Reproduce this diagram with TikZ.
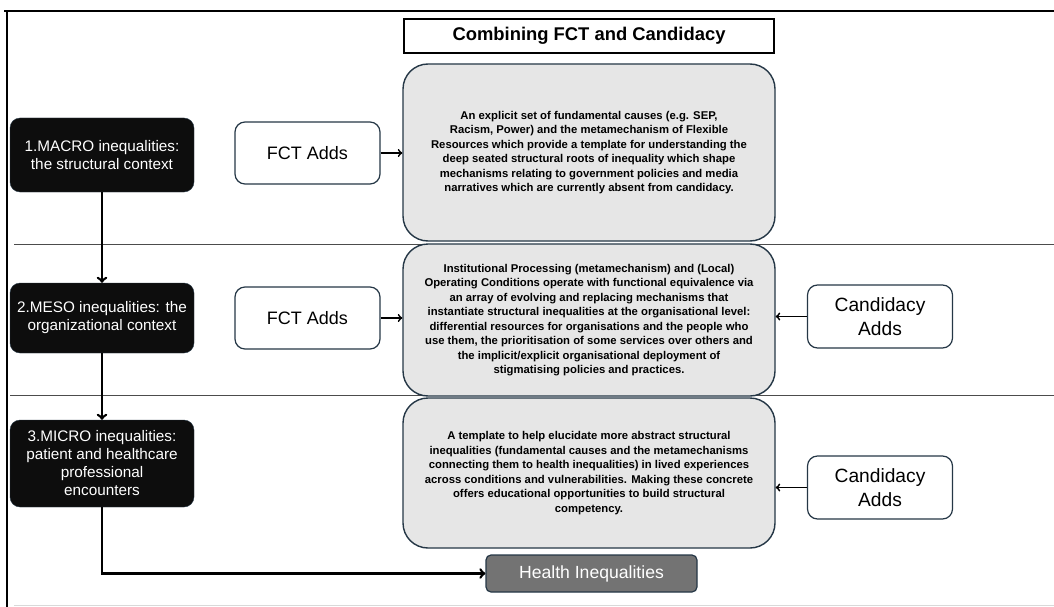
\documentclass[tikz,border=0pt]{standalone}
\usepackage{fontspec}
\setmainfont{Liberation Sans}
\definecolor{navy}{HTML}{253746}
\definecolor{panel}{HTML}{E6E6E6}
\definecolor{outcome}{HTML}{737373}
\tikzset{
  level/.style={draw=navy,fill=black!95,text=white,rounded corners=10pt,align=center,minimum width=184pt,font=\fontsize{15.3}{18}\selectfont},
  adds/.style={draw=navy,line width=1.2pt,fill=white,rounded corners=10pt,align=center,minimum width=145pt,minimum height=62pt,font=\fontsize{18}{24}\selectfont},
  panelbox/.style={draw=navy,line width=1.4pt,fill=panel,rounded corners=25pt,align=center,minimum width=372pt,font=\bfseries\fontsize{11.3}{14.5}\selectfont},
  link/.style={line width=2.6pt,->}
}
\begin{document}
\begin{tikzpicture}[x=1pt,y=-1pt]
  \useasboundingbox (0,0) rectangle (1054,607);
  % frame and level separators
  \draw[line width=2.5pt] (4,11) -- (1054,11);
  \draw[line width=2pt] (7,11) -- (7,607);
  \draw[black!15] (14,605) -- (1054,605);
  \draw[black!70,line width=0.9pt] (14,244) -- (1054,244);
  \draw[black!70,line width=0.9pt] (10,395) -- (1054,395);

  \node[draw,line width=1.5pt,minimum width=370pt,minimum height=34pt,font=\bfseries\fontsize{18.4}{20}\selectfont] (title) at (589,36) {Combining FCT and Candidacy};

  \node[panelbox,minimum height=177pt] (fct1) at (589,152.5) {An explicit set of fundamental causes (e.g. SEP,\\Racism, Power) and the metamechanism of Flexible\\Resources which provide a template for understanding the\\deep seated structural roots of inequality which shape\\mechanisms relating to government policies and media\\narratives which are currently absent from candidacy.};
  \node[panelbox,minimum height=152pt] (both) at (589,320) {Institutional Processing (metamechanism) and (Local)\\Operating Conditions operate with functional equivalence via\\an array of evolving and replacing mechanisms that\\instantiate structural inequalities at the organisational level:\\differential resources for organisations and the people who\\use them, the prioritisation of some services over others and\\the implicit/explicit organisational deployment of\\stigmatising policies and practices.};
  \node[panelbox,minimum height=150pt] (cand) at (589,473) {A template to help elucidate more abstract structural\\inequalities (fundamental causes and the metamechanisms\\connecting them to health inequalities) in lived experiences\\across conditions and vulnerabilities. Making these concrete\\offers educational opportunities to build structural\\competency.};

  \node[level,minimum height=74pt] (macro) at (102,155) {1.MACRO inequalities:\\the structural context};
  \node[level,minimum height=70pt] (meso) at (102,318) {2.MESO inequalities: the\\organizational context};
  \node[level,minimum height=87pt] (micro) at (102,463.5) {3.MICRO inequalities:\\patient and healthcare\\professional\\encounters};

  \node[adds] (fctadd1) at (307.5,153) {FCT Adds};
  \node[adds] (fctadd2) at (307.5,318) {FCT Adds};
  \node[adds,minimum height=63pt,font=\fontsize{19.2}{24}\selectfont] (candadd1) at (880,316.5) {Candidacy\\Adds};
  \node[adds,minimum height=63pt,font=\fontsize{19.2}{24}\selectfont] (candadd2) at (880,487.5) {Candidacy\\Adds};

  \node[draw=navy,line width=1.2pt,fill=outcome,text=white,rounded corners=5pt,minimum width=211pt,minimum height=37pt,font=\fontsize{17.6}{18}\selectfont] (health) at (591.5,573.5) {Health Inequalities};

  \draw[link] (macro) -- (meso);
  \draw[link] (meso) -- (micro);
  \draw[link] (micro.south) |- (health.west);
  \draw[link,line width=1.8pt] (fctadd1) -- (fctadd1 -| fct1.west);
  \draw[link,line width=1.8pt] (fctadd2) -- (fctadd2 -| both.west);
  \draw[link,line width=1.8pt] (candadd1) -- (candadd1 -| both.east);
  \draw[link,line width=1.8pt] (candadd2) -- (candadd2 -| cand.east);
\end{tikzpicture}
\end{document}
